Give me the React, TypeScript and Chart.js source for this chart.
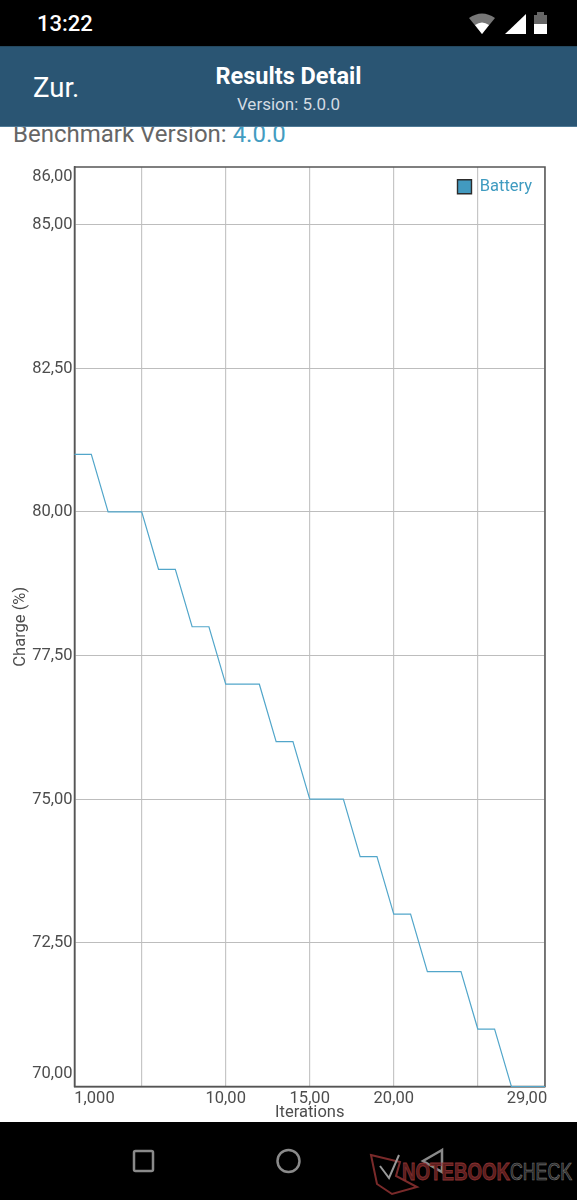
import React, { useEffect, useRef } from "react";
import { Chart, registerables } from "chart.js";

Chart.register(...registerables);

const iterations = [1, 2, 3, 4, 5, 6, 7, 8, 9, 10, 11, 12, 13, 14, 15, 16, 17, 18, 19, 20, 21, 22, 23, 24, 25, 26, 27, 28, 29];
const charge = [81, 81, 80, 80, 80, 79, 79, 78, 78, 77, 77, 77, 76, 76, 75, 75, 75, 74, 74, 73, 73, 72, 72, 72, 71, 71, 70, 70, 70];
const xTicks = [1, 5, 10, 15, 20, 25, 29];
const xLabels: Record<number, string> = { 1: "1,000", 10: "10,00", 15: "15,00", 20: "20,00", 29: "29,00" };
const yTicks = [70, 72.5, 75, 77.5, 80, 82.5, 85, 86];
const yLabels: Record<number, string> = { 70: "70,00", 72.5: "72,50", 75: "75,00", 77.5: "77,50", 80: "80,00", 82.5: "82,50", 85: "85,00", 86: "86,00" };
const seriesName = "Battery";

const BLUE = "#52a6ca";
const TEXT = "#4d4d4d";

const edgeLabels = {
  id: "edgeLabels",
  afterLayout(chart: any) {
    if (chart.legend) {
      chart.legend.left = 447.5;
      chart.legend.top = 41.5;
    }
  },
  beforeDraw(chart: any) {
    const xi = chart.scales.x.getLabelItems();
    const yi = chart.scales.y.getLabelItems();
    if (chart.$edgeItems === xi) return;
    chart.$edgeItems = xi;
    xi.forEach((it: any) => {
      if (it.label === xLabels[1]) it.options.translation[0] += 20;
      if (it.label === xLabels[29]) it.options.translation[0] -= 18;
    });
    yi.forEach((it: any) => {
      it.options.translation[1] += 0.5;
      if (it.label === yLabels[86]) it.options.translation[1] += 9;
      if (it.label === yLabels[70]) it.options.translation[1] -= 13.5;
    });
  },
  beforeDatasetsDraw(chart: any) {
    const { left, right, top, bottom } = chart.chartArea;
    const ctx = chart.ctx;
    ctx.save();
    ctx.strokeStyle = "#555";
    ctx.lineWidth = 1.5;
    ctx.strokeRect(left, top, right - left, bottom - top);
    ctx.restore();
  },
};

const abs = (left: number, top: number, extra: React.CSSProperties = {}): React.CSSProperties => ({
  position: "absolute",
  left,
  top,
  whiteSpace: "nowrap",
  ...extra,
});

export default function App() {
  const ref = useRef<HTMLCanvasElement>(null);
  useEffect(() => {
    document.body.style.margin = "0";
    document.body.style.background = "#fff";
    const chart = new Chart(ref.current!, {
      type: "line",
      data: {
        datasets: [
          {
            label: seriesName,
            data: iterations.map((x, i) => ({ x, y: charge[i] })),
            borderColor: BLUE,
            backgroundColor: "#429ac0",
            borderWidth: 1.2,
            pointRadius: 0,
            tension: 0,
            fill: false,
            clip: 3,
          },
        ],
      },
      plugins: [edgeLabels],
      options: {
        animation: false,
        responsive: false,
        layout: { padding: { left: 0, right: 32, top: 40, bottom: 0 } },
        plugins: {
          tooltip: { enabled: false },
          legend: {
            position: "chartArea" as any,
            align: "start",
            labels: {
              boxWidth: 14,
              boxHeight: 14,
              padding: 10,
              font: { family: "Roboto", size: 16.5 },
              generateLabels: () => [
                {
                  text: seriesName,
                  fillStyle: "#429ac0",
                  strokeStyle: "#2c2c2c",
                  fontColor: "#3f9bc0",
                  lineWidth: 1.4,
                  datasetIndex: 0,
                } as any,
              ],
            },
          },
        },
        scales: {
          x: {
            type: "linear",
            min: 1,
            max: 29,
            afterBuildTicks: (s: any) => {
              s.ticks = xTicks.map((value) => ({ value }));
            },
            afterFit: (s: any) => {
              s.height = 35.5;
            },
            ticks: {
              autoSkip: false,
              maxRotation: 0,
              padding: 2,
              color: TEXT,
              font: { family: "Roboto", size: 16.5 },
              callback: (v: any) => xLabels[v] ?? "",
            },
            title: {
              display: true,
              text: "Iterations",
              color: TEXT,
              font: { family: "Roboto", size: 16.5 },
              padding: { top: 0, bottom: -1 },
            },
            grid: { color: "#c6c6c6", lineWidth: 1.2, drawTicks: false },
            border: { color: "#555", width: 1.5 },
          },
          y: {
            type: "linear",
            min: 70,
            max: 86,
            afterBuildTicks: (s: any) => {
              s.ticks = yTicks.map((value) => ({ value }));
            },
            afterFit: (s: any) => {
              s.width = 74.5;
            },
            ticks: {
              autoSkip: false,
              padding: 2,
              color: TEXT,
              font: { family: "Roboto", size: 16.5 },
              callback: (v: any) => yLabels[v] ?? "",
            },
            title: {
              display: true,
              text: "Charge (%)",
              color: TEXT,
              font: { family: "Roboto", size: 16.5 },
              padding: { top: 11, bottom: 0 },
            },
            grid: {
              color: (c: any) => (c.tick && c.tick.value === 86 ? "rgba(0,0,0,0)" : "#bdbdbd"),
              lineWidth: 1,
              drawTicks: false,
            },
            border: { color: "#555", width: 1.5 },
          },
        },
      },
    } as any);
    return () => chart.destroy();
  }, []);

  return (
    <div style={{ position: "relative", width: 577, height: 1200, overflow: "hidden", background: "#fff", fontFamily: "Roboto" }}>
      <div style={abs(13, 119, { fontSize: 24, color: "#666", lineHeight: "30px" })}>
        Benchmark Version: <span style={{ color: "#439cc1" }}>4.0.0</span>
      </div>
      <canvas ref={ref} width={577} height={995} style={{ position: "absolute", left: 0, top: 127, width: 577, height: 995 }} />
      <div style={abs(0, 0, { width: 577, height: 46, background: "#000" })} />
      <div style={abs(37, 11, { color: "#fff", fontSize: 22, lineHeight: "26px", fontWeight: 500 })}>13:22</div>
      <svg style={abs(465, 8)} width="90" height="32" viewBox="0 0 90 32">
        <path d="M4 10 Q17 1 30 10 L17 26 Z" fill="#777" />
        <path d="M10 17 Q17 12 24 17 L17 26 Z" fill="#fff" />
        <path d="M40 26 L61 6 V26 Z" fill="#fff" />
        <rect x="69" y="8" width="13" height="18" fill="#fff" />
        <rect x="69" y="7" width="13" height="9" fill="#666" />
        <rect x="72" y="4" width="7" height="3" fill="#666" />
      </svg>
      <div style={abs(0, 46, { width: 577, height: 81, background: "#2a5573", borderTop: "1px solid #24485f", borderBottom: "1px solid #4f7a96", boxSizing: "border-box" })} />
      <div style={abs(33, 71, { color: "#fff", fontSize: 27.5, lineHeight: "34px" })}>Zur.</div>
      <div style={abs(0, 62, { width: 577, textAlign: "center", color: "#fff", fontSize: 23.5, fontWeight: 700, lineHeight: "28px" })}>Results Detail</div>
      <div style={abs(0, 94, { width: 577, textAlign: "center", color: "#d3dbe2", fontSize: 17, lineHeight: "20px" })}>Version: 5.0.0</div>
      <div style={abs(0, 1122, { width: 577, height: 78, background: "#000" })} />
      <svg style={abs(0, 1122)} width="577" height="78" viewBox="0 0 577 78">
        <rect x="134" y="29" width="19" height="20" rx="1.5" fill="none" stroke="#8a8a8a" strokeWidth="2.5" />
        <circle cx="288.5" cy="39" r="11" fill="none" stroke="#8a8a8a" strokeWidth="2.5" />
        <path d="M442 28 L423 39 L442 50 Z" fill="none" stroke="#8a8a8a" strokeWidth="2.5" />
        <path d="M371 33 L400 40 L396 54 L417 65 L392 72 L377 62 Z" fill="none" stroke="#7a2a2a" strokeWidth="2" />
        <path d="M380 44 L389 56 L399 33" fill="none" stroke="#999" strokeWidth="2" />
        <text x="402" y="58" fontFamily="Liberation Sans" fontWeight="700" fontSize="24" textLength="108" lengthAdjust="spacingAndGlyphs" fill="#5a1f1f" stroke="#8a3030" strokeWidth="0.8">NOTEBOOK</text>
        <text x="510" y="58" fontFamily="Liberation Sans" fontSize="24" textLength="62" lengthAdjust="spacingAndGlyphs" fill="#222" stroke="#777" strokeWidth="0.7">CHECK</text>
      </svg>
    </div>
  );
}
